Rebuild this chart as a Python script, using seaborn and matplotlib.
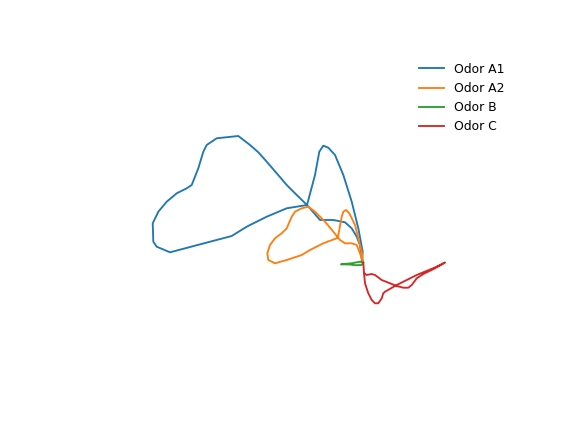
import numpy as np
import pandas as pd
import seaborn as sns
import matplotlib
matplotlib.use("Agg")
import matplotlib.pyplot as plt

# trajectories in PC space (PC1, PC2)
odor_names = ["Odor A1", "Odor A2", "Odor B", "Odor C"]

a1_x = [0.0, 0.07, -0.37, -1.03, -1.87, -2.7, -3.37, -3.87, -4.27, -4.7, -5.5,
        -6.53, -7.53, -8.53, -9.53, -10.37, -11.2, -12.37, -14.53, -15.53, -15.87,
        -16.37, -17.03, -17.53, -18.53, -19.53, -20.37, -20.93, -20.87, -20.53, -19.2,
        -13.03, -11.53, -9.53, -7.53, -5.5, -4.2, -2.87, -1.7, -1.03, -0.53, -0.2, 0.0]
a1_y = [0.0, 1.03, 3.37, 6.03, 8.7, 10.7, 11.43, 11.63, 11.03, 8.7, 5.7,
        6.7, 7.7, 8.87, 10.03, 10.97, 11.7, 12.6, 12.37, 11.7, 11.03,
        9.37, 7.7, 7.37, 6.87, 6.03, 5.03, 3.87, 2.03, 1.53, 0.97,
        2.6, 3.53, 4.53, 5.37, 5.7, 4.2, 4.2, 3.97, 3.37, 2.53, 1.7, 0.0]

a2_x = [0.1, -0.2, -0.53, -1.03, -1.7, -2.2, -2.87, -3.7, -4.7, -5.37, -6.03,
        -6.7, -7.03, -7.53, -8.03, -8.7, -9.2, -9.47, -9.37, -8.7, -7.53,
        -6.03, -5.2, -3.87, -2.53, -2.37, -2.03, -1.87, -1.6, -1.27, -0.7,
        -0.37, -0.03, 0.1]
a2_y = [0.0, 0.87, 1.7, 1.87, 1.87, 2.2, 3.03, 4.03, 5.03, 5.53, 5.37,
        5.03, 4.53, 3.37, 2.87, 2.37, 1.7, 0.87, 0.2, -0.13, 0.2,
        0.7, 1.2, 1.87, 2.37, 2.7, 4.53, 5.03, 5.2, 4.87, 3.7,
        2.37, 1.03, 0.0]

b_x = [0.1, -0.2, -1.03, -2.1, -1.2, -0.7, -0.03, 0.13]
b_y = [-0.05, 0.03, -0.13, -0.23, -0.25, -0.32, -0.3, -0.07]

c_x = [0.13, 0.2, 0.3, 0.63, 0.97, 1.3, 1.63, 1.97, 2.13, 2.3, 3.47, 5.47,
       7.3, 8.3, 7.3, 6.13, 5.47, 4.97, 4.63, 4.13, 3.47, 2.8, 1.97, 1.3,
       0.97, 0.47, 0.23]
c_y = [-0.07, -1.1, -2.13, -3.13, -3.8, -4.13, -4.13, -3.63, -3.13, -2.97, -2.3, -1.3,
       -0.55, -0.05, -0.63, -1.2, -1.63, -2.3, -2.57, -2.57, -2.4, -2.13, -1.8, -1.3,
       -1.2, -1.3, -1.13]

traj = [(a1_x, a1_y), (a2_x, a2_y), (b_x, b_y), (c_x, c_y)]
colors = sns.color_palette("tab10", 4)

# default 6.4x4.8 figure, rendered at lower dpi -> 573x429
dpi = 89.5
fig, ax = plt.subplots(figsize=(573 / dpi, 429 / dpi), dpi=dpi)
fig.subplots_adjust(left=0.125, right=0.9, bottom=0.11, top=0.88)

for name, (xs, ys), col in zip(odor_names, traj, colors):
    df = pd.DataFrame({"PC1": xs, "PC2": ys})
    sns.lineplot(data=df, x="PC1", y="PC2", sort=False, estimator=None,
                 color=col, linewidth=1.5, label=name, ax=ax)

ax.set_xlim(-29.04, 15.37)
ax.set_ylim(-11.98, 21.05)
ax.axis("off")
ax.legend(loc="upper right", frameon=False)

fig.savefig("out.png", dpi=dpi)
